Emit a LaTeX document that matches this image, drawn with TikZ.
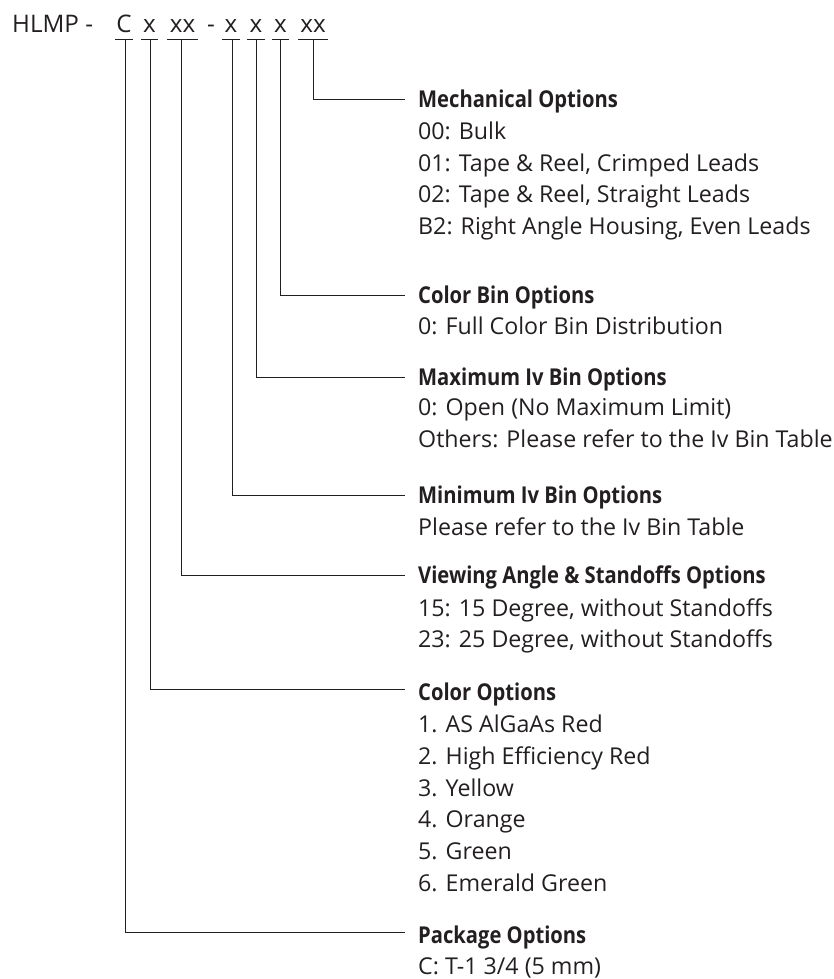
\documentclass[tikz,border=0pt]{standalone}
\usepackage{fontspec}
\setmainfont{Open Sans}
\newfontfamily\hfont[FakeStretch=0.87]{Open Sans}
\definecolor{ink}{HTML}{231F20}
\begin{document}
\begin{tikzpicture}[x=1pt,y=-1pt,
  code/.style={font=\fontsize{24.2}{28}\selectfont, text=ink, anchor=base, inner sep=0pt},
  head/.style={font=\hfont\bfseries\fontsize{23.2}{27}\selectfont, text=ink, anchor=base west, inner sep=0pt},
  body/.style={font=\fontsize{23.2}{27}\selectfont, text=ink, anchor=base west, inner sep=0pt},
  uline/.style={draw=ink, line width=1.8pt},
  conn/.style={draw=ink, line width=1pt}]
\useasboundingbox (0,0) rectangle (834,979);
% top code
\node[code, anchor=base west] (hlmp) at (12,32.3) {HLMP -};
\node[code] (cC) at (124,32.3) {C};
\node[code] (c1) at (149.5,32.3) {x};
\node[code] (c2) at (182.5,32.3) {xx};
\node[code] (dash) at (211,32.3) {-};
\node[code] (c3) at (231,32.3) {x};
\node[code] (c4) at (256,32.3) {x};
\node[code] (c5) at (280.5,32.3) {x};
\node[code] (c6) at (313,32.3) {xx};
% underlines
\draw[uline] (115,39.5) -- (133,39.5);
\draw[uline] (141,39.5) -- (158,39.5);
\draw[uline] (167,39.5) -- (198,39.5);
\draw[uline] (222,39.5) -- (240,39.5);
\draw[uline] (247,39.5) -- (265,39.5);
\draw[uline] (272,39.5) -- (289,39.5);
\draw[uline] (298,39.5) -- (328,39.5);
% underline tap points
\coordinate (uC) at (125,39.5);
\coordinate (u1) at (150,39.5);
\coordinate (u2) at (181,39.5);
\coordinate (u3) at (232,39.5);
\coordinate (u4) at (256,39.5);
\coordinate (u5) at (280,39.5);
\coordinate (u6) at (313,39.5);
% line ends
\coordinate (e6) at (405,100);
\coordinate (e5) at (405,295);
\coordinate (e4) at (405,377);
\coordinate (e3) at (405,495);
\coordinate (e2) at (405,575);
\coordinate (e1) at (405,689);
\coordinate (eC) at (405,932);
% connectors
\draw[conn] (u6) |- (e6);
\draw[conn] (u5) |- (e5);
\draw[conn] (u4) |- (e4);
\draw[conn] (u3) |- (e3);
\draw[conn] (u2) |- (e2);
\draw[conn] (u1) |- (e1);
\draw[conn] (uC) |- (eC);
% headings
\node[head] (hMech) at (418,108) {Mechanical Options};
\node[head] (hCBin) at (418,303) {Color Bin Options};
\node[head] (hMax) at (418,385) {Maximum Iv Bin Options};
\node[head] (hMin) at (418,503) {Minimum Iv Bin Options};
\node[head] (hView) at (418,583) {Viewing Angle \& Standoffs Options};
\node[head] (hCol) at (418,700) {Color Options};
\node[head] (hPkg) at (418,943) {Package Options};
% bodies
\foreach [count=\i from 0] \t in {{00: Bulk},{01: Tape \& Reel, Crimped Leads},{02: Tape \& Reel, Straight Leads},{B2: Right Angle Housing, Even Leads}}
  \node[body] (bMech\i) at (418,139.5+31.7*\i) {\t};
\node[body] (bCBin0) at (418,334) {0: Full Color Bin Distribution};
\foreach [count=\i from 0] \t in {{0: Open (No Maximum Limit)},{Others: Please refer to the Iv Bin Table}}
  \node[body] (bMax\i) at (418,415.5+31.7*\i) {\t};
\node[body] (bMin0) at (418,535.5) {Please refer to the Iv Bin Table};
\foreach [count=\i from 0] \t in {{15: 15 Degree, without Standoffs},{23: 25 Degree, without Standoffs}}
  \node[body] (bView\i) at (418,616+31.7*\i) {\t};
\foreach [count=\i from 0] \t in {{1. AS AlGaAs Red},{2. High Efficiency Red},{3. Yellow},{4. Orange},{5. Green},{6. Emerald Green}}
  \node[body] (bCol\i) at (418,732.5+31.8*\i) {\t};
\node[body] (bPkg0) at (418,974.5) {C: T-1 3/4 (5 mm)};
\end{tikzpicture}
\end{document}
